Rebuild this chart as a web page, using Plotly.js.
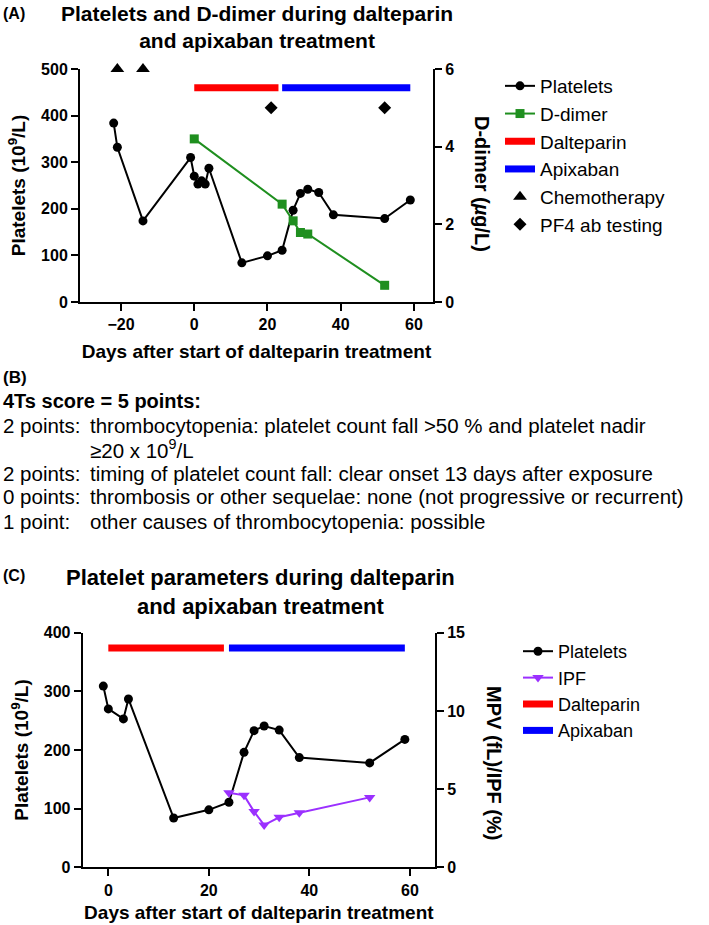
<!DOCTYPE html>
<html><head><meta charset="utf-8">
<script src="https://cdn.plot.ly/plotly-3.0.1.min.js"></script>
<style>html,body{margin:0;padding:0;background:#fff}#chart{width:709px;height:925px}</style>
</head><body><div id="chart"></div>
<script>
// ---- Panel A data ----
const daysA = [-22, -21, -14, -1, 0, 1, 2, 3, 4, 13, 20, 24, 27, 29, 31, 34, 38, 52, 59];
const plateletsA = [384, 332, 174, 310, 270, 253, 260, 253, 287, 84, 99, 111, 197, 233, 242, 235, 187, 179, 219];
const ddimerDays = [0, 24, 27, 29, 31, 52];
const ddimerValues = [4.2, 2.52, 2.09, 1.79, 1.75, 0.43];
const chemoDays = [-21, -14];
const chemoLevel = [500, 500];
const pf4Days = [21, 52];
const pf4Level = [417, 417];
const dalteparinDays = [0, 23];
const apixabanDays = [24, 59];
const barLevelA = [460, 460];
const xTicksA = [-20, 0, 20, 40, 60];
const yTicksA = [0, 100, 200, 300, 400, 500];
const y2TicksA = [0, 2, 4, 6];

// ---- Panel C data ----
const daysC = [-1, 0, 3, 4, 13, 20, 24, 27, 29, 31, 34, 38, 52, 59];
const plateletsC = [309, 270, 253, 287, 84, 98, 111, 196, 233, 241, 234, 187, 178, 218];
const ipfDays = [24, 27, 29, 31, 34, 38, 52];
const ipfValues = [4.77, 4.6, 3.56, 2.7, 3.2, 3.49, 4.47];
const barLevelC = [374, 374];
const xTicksC = [0, 20, 40, 60];
const yTicksC = [0, 100, 200, 300, 400];
const y2TicksC = [0, 5, 10, 15];

// ---- Panel B text ----
const scoreTitle = '4Ts score = 5 points:';
const scoreLabels = ['2 points:', '', '2 points:', '0 points:', '1 point:'];
const scoreTexts = [
  'thrombocytopenia: platelet count fall >50 % and platelet nadir',
  '\u226520 x 10<sup>9</sup>/L',
  'timing of platelet count fall: clear onset 13 days after exposure',
  'thrombosis or other sequelae: none (not progressive or recurrent)',
  'other causes of thrombocytopenia: possible'
];

const W = 709, H = 925;
const px = v => v / W;
const py = v => 1 - v / H;
const SANS = 'Liberation Sans, Arial, sans-serif';
const RED = '#ff0000', BLUE = '#0000ff', GREEN = '#1f8f1f', PURPLE = '#9b30ff';

const traces = [
  {x: dalteparinDays, y: barLevelA, xaxis: 'x', yaxis: 'y', mode: 'lines', name: 'Dalteparin',
   line: {color: RED, width: 7}, legend: 'legend', legendrank: 3, cliponaxis: false},
  {x: apixabanDays, y: barLevelA, xaxis: 'x', yaxis: 'y', mode: 'lines', name: 'Apixaban',
   line: {color: BLUE, width: 7}, legend: 'legend', legendrank: 4, cliponaxis: false},
  {x: ddimerDays, y: ddimerValues, xaxis: 'x', yaxis: 'y2', mode: 'lines+markers', name: 'D-dimer',
   line: {color: GREEN, width: 2}, marker: {symbol: 'square', size: 9, color: GREEN},
   legend: 'legend', legendrank: 2, cliponaxis: false},
  {x: daysA, y: plateletsA, xaxis: 'x', yaxis: 'y', mode: 'lines+markers', name: 'Platelets',
   line: {color: '#000', width: 2}, marker: {symbol: 'circle', size: 9, color: '#000'},
   legend: 'legend', legendrank: 1, cliponaxis: false},
  {x: chemoDays, y: chemoLevel, xaxis: 'x', yaxis: 'y', mode: 'markers', name: 'Chemotherapy',
   marker: {symbol: 'triangle-up', size: 12, color: '#000'}, legend: 'legend', legendrank: 5, cliponaxis: false},
  {x: pf4Days, y: pf4Level, xaxis: 'x', yaxis: 'y', mode: 'markers', name: 'PF4 ab testing',
   marker: {symbol: 'diamond', size: 10, color: '#000'}, legend: 'legend', legendrank: 6, cliponaxis: false},

  {x: dalteparinDays, y: barLevelC, xaxis: 'x2', yaxis: 'y3', mode: 'lines', name: 'Dalteparin',
   line: {color: RED, width: 7}, legend: 'legend2', legendrank: 3, cliponaxis: false},
  {x: apixabanDays, y: barLevelC, xaxis: 'x2', yaxis: 'y3', mode: 'lines', name: 'Apixaban',
   line: {color: BLUE, width: 7}, legend: 'legend2', legendrank: 4, cliponaxis: false},
  {x: ipfDays, y: ipfValues, xaxis: 'x2', yaxis: 'y4', mode: 'lines+markers', name: 'IPF',
   line: {color: PURPLE, width: 2}, marker: {symbol: 'triangle-down', size: 10, color: PURPLE},
   legend: 'legend2', legendrank: 2, cliponaxis: false},
  {x: daysC, y: plateletsC, xaxis: 'x2', yaxis: 'y3', mode: 'lines+markers', name: 'Platelets',
   line: {color: '#000', width: 2}, marker: {symbol: 'circle', size: 9, color: '#000'},
   legend: 'legend2', legendrank: 1, cliponaxis: false}
];

const tickFont = {family: SANS, size: 16, color: '#000', weight: 'bold'};
const titleFont = {family: SANS, size: 19, color: '#000', weight: 'bold'};
const axisBase = {
  showline: true, linewidth: 2, linecolor: '#000', ticks: 'outside', ticklen: 7, tickwidth: 2,
  tickcolor: '#000', showgrid: false, zeroline: false, tickfont: tickFont, automargin: false,
  tickmode: 'array'
};

const annotations = [
  {text: '(A)', x: px(1), y: py(14), xref: 'paper', yref: 'paper', xanchor: 'left', yanchor: 'middle',
   showarrow: false, font: {family: SANS, size: 16, weight: 'bold', color: '#000'}},
  {text: 'Platelets and D-dimer during dalteparin<br>and apixaban treatment', x: px(257), y: py(0),
   xref: 'paper', yref: 'paper', xanchor: 'center', yanchor: 'top', showarrow: false,
   font: {family: SANS, size: 21, weight: 'bold', color: '#000'}},
  {text: 'D-dimer (<i>\u00b5</i>g/L)', x: px(482), y: py(184), xref: 'paper', yref: 'paper', textangle: 90,
   xanchor: 'center', yanchor: 'middle', showarrow: false, font: {family: SANS, size: 20, weight: 'bold', color: '#000'}},
  {text: '(B)', x: px(1), y: py(377), xref: 'paper', yref: 'paper', xanchor: 'left', yanchor: 'middle',
   showarrow: false, font: {family: SANS, size: 17, weight: 'bold', color: '#000'}},
  {text: scoreTitle, x: px(1), y: py(401), xref: 'paper', yref: 'paper', xanchor: 'left', yanchor: 'middle',
   showarrow: false, font: {family: SANS, size: 20, weight: 'bold', color: '#000'}},
  {text: '(C)', x: px(1), y: py(575), xref: 'paper', yref: 'paper', xanchor: 'left', yanchor: 'middle',
   showarrow: false, font: {family: SANS, size: 16, weight: 'bold', color: '#000'}},
  {text: 'Platelet parameters during dalteparin<br>and apixaban treatment', x: px(260), y: py(563),
   xref: 'paper', yref: 'paper', xanchor: 'center', yanchor: 'top', showarrow: false,
   font: {family: SANS, size: 22, weight: 'bold', color: '#000'}},
  {text: 'MPV (fL)/IPF (%)', x: px(494), y: py(763), xref: 'paper', yref: 'paper', textangle: 90,
   xanchor: 'center', yanchor: 'middle', showarrow: false, font: {family: SANS, size: 20, weight: 'bold', color: '#000'}}
];
const lineYs = [425, 449, 473, 497, 521];
scoreTexts.forEach((t, i) => {
  if (scoreLabels[i]) annotations.push({text: scoreLabels[i], x: px(1), y: py(lineYs[i]), xref: 'paper', yref: 'paper',
    xanchor: 'left', yanchor: 'middle', showarrow: false, font: {family: SANS, size: 20.5, color: '#000'}});
  annotations.push({text: t, x: px(88), y: py(lineYs[i]), xref: 'paper', yref: 'paper',
    xanchor: 'left', yanchor: 'middle', showarrow: false, font: {family: SANS, size: 20.5, color: '#000'}});
});

const layout = {
  width: W, height: H, margin: {l: 0, r: 0, t: 0, b: 0}, paper_bgcolor: '#fff', plot_bgcolor: 'rgba(0,0,0,0)',
  font: {family: SANS, color: '#000'},
  xaxis: Object.assign({}, axisBase, {domain: [px(80), px(433)], range: [-31.2, 65.2], anchor: 'y', tickvals: xTicksA,
    title: {text: 'Days after start of dalteparin treatment', font: titleFont, standoff: 12}}),
  yaxis: Object.assign({}, axisBase, {domain: [py(302), py(69)], range: [0, 500], anchor: 'x', tickvals: yTicksA,
    title: {text: 'Platelets (10<sup>9</sup>/L)', font: titleFont, standoff: 10}}),
  yaxis2: Object.assign({}, axisBase, {overlaying: 'y', side: 'right', anchor: 'x', range: [0, 6], tickvals: y2TicksA}),
  xaxis2: Object.assign({}, axisBase, {domain: [px(82.7), px(435)], range: [-5.1, 65], anchor: 'y3', tickvals: xTicksC,
    title: {text: 'Days after start of dalteparin treatment', font: titleFont, standoff: 8}}),
  yaxis3: Object.assign({}, axisBase, {domain: [py(867.3), py(632.7)], range: [0, 400], anchor: 'x2', tickvals: yTicksC,
    title: {text: 'Platelets (10<sup>9</sup>/L)', font: titleFont, standoff: 10}}),
  yaxis4: Object.assign({}, axisBase, {overlaying: 'y3', side: 'right', anchor: 'x2', range: [0, 15], tickvals: y2TicksC}),
  legend: {x: px(500), y: py(67), xanchor: 'left', yanchor: 'top', bgcolor: 'rgba(0,0,0,0)', borderwidth: 0,
    font: {family: SANS, size: 19, color: '#000'}, tracegroupgap: 0, traceorder: 'normal'},
  legend2: {x: px(518), y: py(633), xanchor: 'left', yanchor: 'top', bgcolor: 'rgba(0,0,0,0)', borderwidth: 0,
    font: {family: SANS, size: 18, color: '#000'}, tracegroupgap: 0, traceorder: 'normal'},
  annotations: annotations,
  showlegend: true
};

Plotly.newPlot('chart', traces, layout, {staticPlot: true});
</script></body></html>
